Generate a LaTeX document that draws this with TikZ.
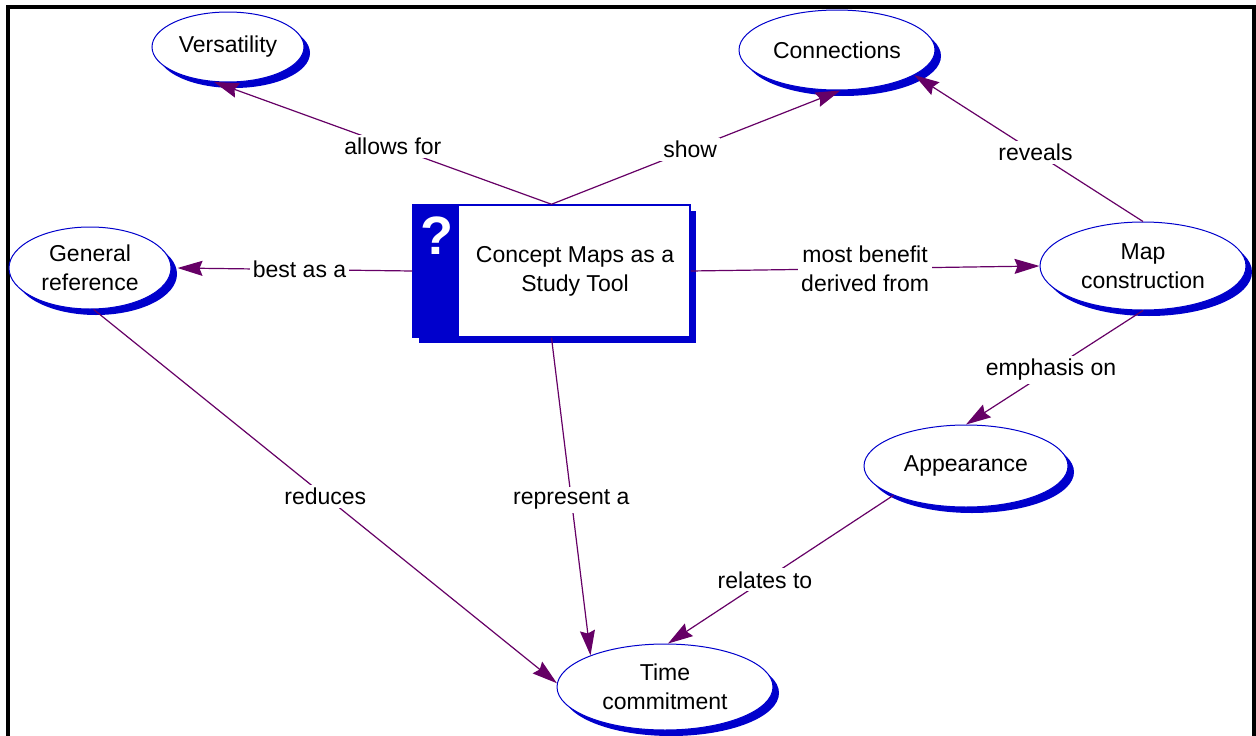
\documentclass[tikz,border=0pt]{standalone}
\usepackage{fontspec}
\setmainfont{Liberation Sans}
\usetikzlibrary{shapes.geometric,arrows.meta,shadows}
\definecolor{mapblue}{RGB}{0,0,204}
\definecolor{linkpurple}{RGB}{102,0,102}
\newcommand\mapfont{\fontsize{23}{29}\selectfont}
\tikzset{
  concept/.style={ellipse, draw=mapblue, line width=1pt, fill=white,
    inner sep=0pt, align=center, font=\mapfont,
    general shadow={fill=mapblue, shadow xshift=6pt, shadow yshift=-6pt}},
  link/.style={draw=linkpurple, line width=1.2pt,
    -{Stealth[length=25pt,width=15pt,inset=3pt]}},
  linklabel/.style={fill=white, inner sep=3pt, align=center, font=\mapfont, text=black},
}
\begin{document}
\begin{tikzpicture}[x=1pt,y=-1pt]
\useasboundingbox (0,0) rectangle (1256,736);
\fill[white] (0,0) rectangle (1256,736);
% frame (open at the bottom)
\draw[line width=4pt, line join=miter] (8,740) -- (8,7) -- (1254,7) -- (1254,740);

% central concept box
\node[draw=mapblue, line width=1.5pt, fill=white, inner sep=0pt,
      minimum width=277pt, minimum height=132pt,
      general shadow={fill=mapblue, shadow xshift=6pt, shadow yshift=-6pt}]
      (box) at (551.5,271) {};
\fill[mapblue] (box.north west) rectangle ([xshift=47pt]box.south west);
\node[text=white, font=\fontsize{54}{54}\selectfont\bfseries] (qmark) at (437,236) {?};
\node[font=\mapfont, align=center] (boxtext) at (575,271) {Concept Maps as a\\Study Tool};

% concepts
\node[concept, minimum width=152pt, minimum height=70pt] (vers) at (228,47) {Versatility};
\node[concept, minimum width=196pt, minimum height=80pt] (conn) at (837,50) {Connections};
\node[concept, minimum width=162pt, minimum height=82pt] (genref) at (90,268) {General\\reference};
\node[concept, minimum width=206pt, minimum height=88pt] (mapc) at (1143,266) {Map\\construction};
\node[concept, minimum width=204pt, minimum height=82pt] (appr) at (966,466) {Appearance};
\node[concept, minimum width=216pt, minimum height=86pt] (time) at (665,687) {Time\\commitment};

% links
\draw[link] (box.north) -- node[linklabel, pos=0.47] (lallows) {allows for} (vers.-112);
\draw[link] (box.north) -- node[linklabel, pos=0.48] (lshow) {show} (conn.-85);
\draw[link] (box.west) -- node[linklabel, pos=0.48] (lbest) {best as a} ([xshift=6pt]genref.east);
\draw[link] (box.east) -- node[linklabel, pos=0.5] (lmost) {most benefit\\derived from} (mapc.west);
\draw[link] (mapc.north) -- node[linklabel, pos=0.47] (lreveals) {reveals} (conn.-18);
\draw[link] (mapc.south) -- node[linklabel, pos=0.52] (lemph) {emphasis on} (appr.north);
\draw[link] (appr.-158) -- node[linklabel, pos=0.57] (lrelates) {relates to} (time.86);
\draw[link] (box.south) -- node[linklabel, pos=0.51] (lrepr) {represent a} (time.157);
\draw[link] (genref.-85) -- node[linklabel, pos=0.5] (lreduces) {reduces} (time.178);
\end{tikzpicture}
\end{document}
